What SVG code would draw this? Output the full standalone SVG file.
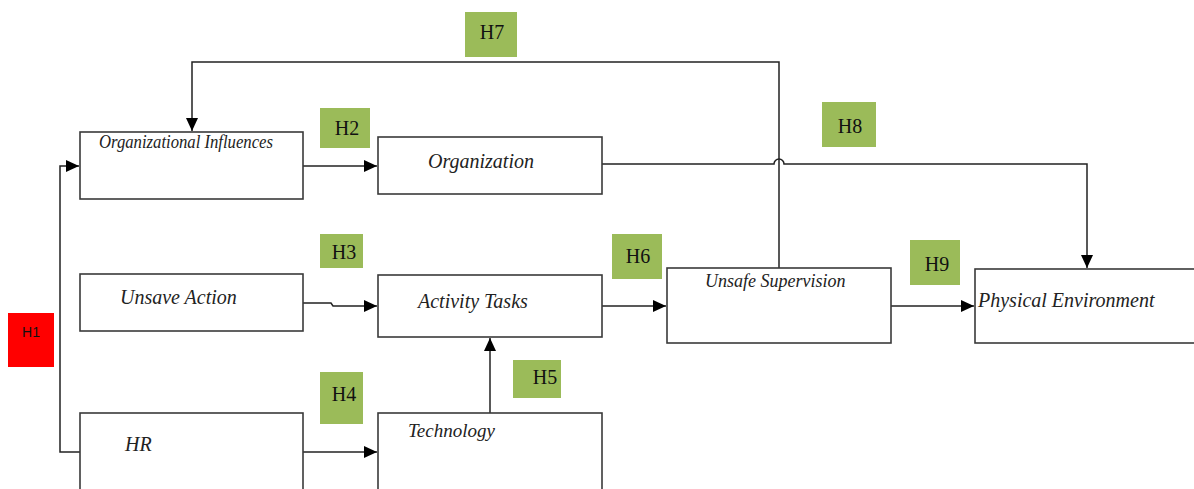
<svg xmlns="http://www.w3.org/2000/svg" width="1194" height="489" viewBox="0 0 1194 489">
<style>
.box{fill:#fff;stroke:#3a3a3a;stroke-width:1.6}
.lbl{font-family:"Liberation Serif",serif;font-style:italic;fill:#222}
.hyp{fill:#9BBB59}
.ht{font-family:"Liberation Serif",serif;font-size:20px;fill:#111;text-anchor:middle}
.con{fill:none;stroke:#222;stroke-width:1.5}
</style>
<defs>
<marker id="ar" markerWidth="13" markerHeight="12" refX="13" refY="6" orient="auto" markerUnits="userSpaceOnUse">
<path d="M0,0 L13,6 L0,12 z" fill="#000"/>
</marker>
</defs>
<rect width="1194" height="489" fill="#fff"/>
<g id="connectors">
<path class="con" d="M779,268 V62 H192 V131" marker-end="url(#ar)"/>
<path class="con" d="M80,452 H60 V166 H79" marker-end="url(#ar)"/>
<path class="con" d="M303,166 H377" marker-end="url(#ar)"/>
<path class="con" d="M602,164 H774 A5,5 0 0 1 784,164 H1087 V268" marker-end="url(#ar)"/>
<path class="con" d="M303,303 H331 L333,306 H377" marker-end="url(#ar)"/>
<path class="con" d="M490,413 V338" marker-end="url(#ar)"/>
<path class="con" d="M602,306 H666" marker-end="url(#ar)"/>
<path class="con" d="M891,306 H974" marker-end="url(#ar)"/>
<path class="con" d="M303,452 H377" marker-end="url(#ar)"/>
</g>
<g id="org-influences"><rect class="box" x="80" y="132" width="223" height="67"/><text class="lbl" x="99" y="148" font-size="18" textLength="174" lengthAdjust="spacingAndGlyphs">Organizational Influences</text></g>
<g id="organization"><rect class="box" x="378" y="137" width="224" height="57"/><text class="lbl" x="428" y="168" font-size="20">Organization</text></g>
<g id="unsave-action"><rect class="box" x="80" y="274" width="223" height="57"/><text class="lbl" x="120" y="304" font-size="20">Unsave Action</text></g>
<g id="activity-tasks"><rect class="box" x="378" y="275" width="224" height="62"/><text class="lbl" x="418" y="308" font-size="20">Activity Tasks</text></g>
<g id="hr"><rect class="box" x="80" y="413" width="223" height="80"/><text class="lbl" x="125" y="451" font-size="20">HR</text></g>
<g id="technology"><rect class="box" x="378" y="413" width="224" height="80"/><text class="lbl" x="408" y="437" font-size="19">Technology</text></g>
<g id="unsafe-supervision"><rect class="box" x="667" y="268" width="224" height="75"/><text class="lbl" x="705" y="287" font-size="18">Unsafe Supervision</text></g>
<g id="physical-environment"><rect class="box" x="975" y="269" width="225" height="74"/><text class="lbl" x="978" y="307" font-size="20">Physical Environment</text></g>
<g id="h1"><rect x="8" y="313" width="46" height="54" fill="#FF0000"/><text x="31" y="337" font-family="Liberation Sans,sans-serif" font-size="14" text-anchor="middle" fill="#111">H1</text></g>
<g id="h2"><rect class="hyp" x="320" y="108" width="50" height="40"/><text class="ht" x="347" y="135">H2</text></g>
<g id="h3"><rect class="hyp" x="320" y="234" width="43" height="34"/><text class="ht" x="344" y="259">H3</text></g>
<g id="h4"><rect class="hyp" x="320" y="372" width="43" height="52"/><text class="ht" x="344" y="401">H4</text></g>
<g id="h5"><rect class="hyp" x="513" y="360" width="48" height="38"/><text class="ht" x="545" y="384">H5</text></g>
<g id="h6"><rect class="hyp" x="612" y="234" width="50" height="45"/><text class="ht" x="638" y="263">H6</text></g>
<g id="h7"><rect class="hyp" x="465" y="12" width="52" height="45"/><text class="ht" x="492" y="39">H7</text></g>
<g id="h8"><rect class="hyp" x="822" y="102" width="54" height="45"/><text class="ht" x="850" y="133">H8</text></g>
<g id="h9"><rect class="hyp" x="910" y="240" width="50" height="45"/><text class="ht" x="937" y="271">H9</text></g>
</svg>
